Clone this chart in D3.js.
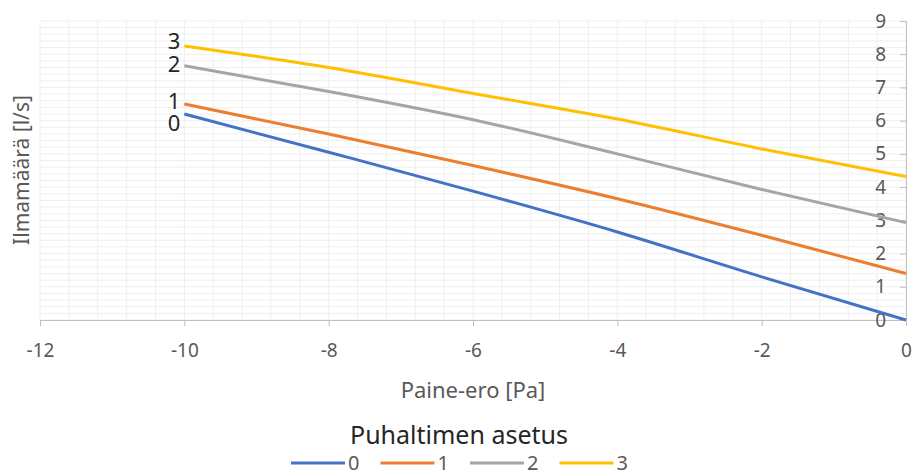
<!DOCTYPE html>
<html>
<head>
<meta charset="utf-8">
<script src="https://cdn.jsdelivr.net/npm/d3@7"></script>
<style>
  body { margin: 0; background: #fff; }
  text { font-family: "Noto Sans", "Open Sans", sans-serif; }
</style>
</head>
<body>
<script>
// paine-ero [Pa]
var pressure = [-10, -8, -6, -4, -2, 0];
// ilmamäärä [l/s] per puhaltimen asetus
var setting0 = [6.2, 5.05, 3.88, 2.65, 1.3, 0];
var setting1 = [6.5, 5.6, 4.65, 3.65, 2.55, 1.4];
var setting2 = [7.65, 6.88, 6.03, 5.0, 3.93, 2.93];
var setting3 = [8.25, 7.6, 6.82, 6.05, 5.15, 4.32];
var seriesNames = ["0", "1", "2", "3"];
var xTicks = [-12, -10, -8, -6, -4, -2, 0];
var yTicks = [0, 1, 2, 3, 4, 5, 6, 7, 8, 9];

var colors = ["#4472C4", "#ED7D31", "#A5A5A5", "#FFC000"];
// label nudges so the names don't overlap (px)
var labelNudge = [9, -3, -2, -5];

var width = 916, height = 476;
var pLeft = 40, pRight = 906, pTop = 21, pBottom = 320;

var svg = d3.select("body").append("svg")
  .attr("width", width)
  .attr("height", height);

var x = d3.scaleLinear().domain([-12, 0]).range([pLeft, pRight]);
var y = d3.scaleLinear().domain([0, 9]).range([pBottom, pTop]);

// grid (minor every 0.4 / 0.2)
var gx = d3.range(-12, 0.001, 0.4);
var gy = d3.range(0, 9.001, 0.2);
svg.append("g").selectAll("line").data(gx).enter().append("line")
  .attr("x1", d => x(d)).attr("x2", d => x(d))
  .attr("y1", pTop).attr("y2", pBottom)
  .attr("stroke", "#efefef").attr("stroke-width", 1);
svg.append("g").selectAll("line").data(gy).enter().append("line")
  .attr("x1", pLeft).attr("x2", pRight)
  .attr("y1", d => y(d)).attr("y2", d => y(d))
  .attr("stroke", "#efefef").attr("stroke-width", 1);

// x axis at y=0
var xAxis = svg.append("g")
  .attr("transform", "translate(0," + y(0) + ")")
  .call(d3.axisBottom(x).tickValues(xTicks).tickSize(6).tickPadding(18)
    .tickFormat(d => d === 0 ? "0" : "-" + Math.abs(d)));
xAxis.select(".domain").attr("stroke", "#bfbfbf");
xAxis.selectAll(".tick line").attr("stroke", "#bfbfbf");
xAxis.selectAll("text").attr("fill", "#595959").style("font-size", "19px");

// y axis at x=0, labels to the left
var yAxis = svg.append("g")
  .attr("transform", "translate(" + x(0) + ",0)")
  .call(d3.axisLeft(y).tickValues(yTicks).tickSize(6).tickPadding(14));
yAxis.select(".domain").attr("stroke", "#bfbfbf");
yAxis.selectAll(".tick line").attr("stroke", "#bfbfbf");
yAxis.selectAll("text").attr("fill", "#595959").style("font-size", "19px");

var allSeries = [setting0, setting1, setting2, setting3];
var line = d3.line()
  .x((d, i) => x(pressure[i]))
  .y(d => y(d))
  .curve(d3.curveMonotoneX);

svg.append("g").selectAll("path").data(allSeries).enter().append("path")
  .attr("d", d => line(d))
  .attr("fill", "none")
  .attr("stroke", (d, i) => colors[i])
  .attr("stroke-width", 3);

// series name labels at the first point
svg.append("g").selectAll("text").data(allSeries).enter().append("text")
  .attr("x", x(pressure[0]) - 4)
  .attr("y", (d, i) => y(d[0]) + labelNudge[i])
  .attr("dy", "0.35em")
  .attr("text-anchor", "end")
  .attr("fill", "#262626")
  .style("font-size", "22px")
  .text((d, i) => seriesNames[i]);

// axis titles
svg.append("text")
  .attr("x", 473).attr("y", 398)
  .attr("text-anchor", "middle")
  .attr("fill", "#595959")
  .style("font-size", "22px")
  .text("Paine-ero [Pa]");

svg.append("text")
  .attr("transform", "translate(29,170) rotate(-90)")
  .attr("text-anchor", "middle")
  .attr("fill", "#595959")
  .style("font-size", "21px")
  .text("Ilmamäärä [l/s]");

// legend
svg.append("text")
  .attr("x", 459).attr("y", 444)
  .attr("text-anchor", "middle")
  .attr("fill", "#262626")
  .style("font-size", "25px")
  .text("Puhaltimen asetus");

var legend = svg.append("g").selectAll("g").data(seriesNames).enter().append("g")
  .attr("transform", (d, i) => "translate(" + (291 + i * 89.5) + ",463)");
legend.append("line")
  .attr("x1", 0).attr("x2", 54)
  .attr("stroke", (d, i) => colors[i])
  .attr("stroke-width", 3);
legend.append("text")
  .attr("x", 57).attr("dy", "0.35em")
  .attr("fill", "#595959")
  .style("font-size", "20px")
  .text(d => d);
</script>
</body>
</html>
